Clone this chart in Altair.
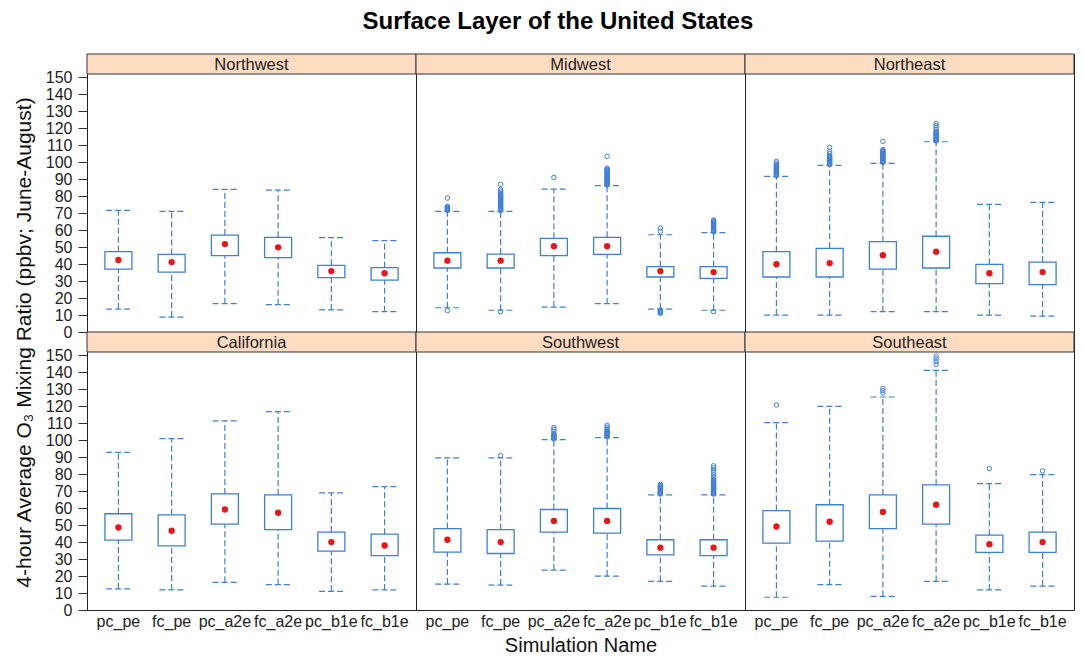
import altair as alt
import pandas as pd

regions = ["Northwest", "Midwest", "Northeast", "California", "Southwest", "Southeast"]
sims = ["pc_pe", "fc_pe", "pc_a2e", "fc_a2e", "pc_b1e", "fc_b1e"]

# box statistics, one row of 6 simulations per region (order of `regions`)
q1_vals = [37.1, 35.3, 45.0, 43.8, 32.0, 30.6,
           37.7, 37.7, 45.0, 45.7, 32.4, 31.6,
           32.4, 32.4, 37.1, 37.7, 28.5, 27.9,
           41.2, 37.8, 50.6, 47.3, 34.7, 32.0,
           34.1, 33.3, 45.9, 45.3, 32.5, 32.0,
           39.4, 40.6, 48.0, 50.6, 33.9, 33.9]
q3_vals = [47.3, 45.7, 57.1, 55.8, 39.3, 37.9,
           46.7, 45.9, 55.2, 55.8, 38.5, 38.5,
           47.3, 49.3, 53.2, 56.4, 39.9, 41.2,
           56.7, 56.1, 68.4, 67.8, 45.9, 44.7,
           48.0, 47.3, 59.2, 59.8, 41.4, 41.4,
           58.6, 62.0, 67.8, 73.7, 44.1, 45.9]
mean_vals = [42.4, 41.2, 51.8, 49.9, 35.9, 34.6,
             42.0, 42.0, 50.5, 50.5, 35.9, 35.3,
             39.9, 40.6, 45.2, 47.3, 34.6, 35.3,
             48.6, 46.7, 59.2, 57.3, 40.0, 38.0,
             41.4, 40.0, 52.5, 52.5, 36.7, 36.7,
             49.2, 52.0, 57.8, 62.0, 38.8, 40.0]
wlo_vals = [13.5, 8.8, 16.7, 16.1, 13.0, 12.0,
            14.3, 12.8, 14.7, 16.7, 13.5, 12.8,
            10.0, 10.0, 12.0, 12.0, 10.0, 9.4,
            12.4, 11.8, 16.3, 14.9, 11.0, 11.8,
            15.3, 14.7, 23.5, 20.0, 16.9, 14.1,
            7.5, 14.9, 8.0, 16.9, 11.8, 14.1]
whi_vals = [71.7, 71.1, 84.0, 83.6, 55.6, 53.8,
            71.1, 71.1, 84.2, 86.2, 57.3, 58.5,
            91.7, 98.2, 99.4, 112.1, 75.2, 76.4,
            92.9, 101.0, 111.4, 116.9, 69.0, 72.7,
            89.6, 89.6, 100.4, 101.6, 67.8, 67.8,
            110.4, 120.0, 125.5, 141.2, 74.5, 79.8]

# outliers: (region, simulation, values)
outliers = [
    ("Midwest", "pc_pe", [12.6, 71.6, 72.0, 72.4, 72.8, 73.2, 73.6, 74.0, 78.9]),
    ("Midwest", "fc_pe", [12.0, 71.5, 72.0, 72.5, 73.0, 73.5, 74.0, 74.5, 75.0, 75.5, 76.0, 76.5,
                          77.0, 77.5, 78.0, 78.5, 79.0, 79.5, 80.0, 80.5, 81.0, 82.0, 83.0, 84.0, 87.0]),
    ("Midwest", "pc_a2e", [91.1]),
    ("Midwest", "fc_a2e", [86.5, 87.0, 87.5, 88.0, 88.5, 89.0, 89.5, 90.0, 90.5, 91.0, 91.5, 92.0,
                           92.5, 93.0, 93.5, 94.0, 94.5, 95.0, 95.5, 96.0, 96.5, 103.5]),
    ("Midwest", "pc_b1e", [11.0, 11.5, 12.0, 12.5, 13.0, 59.3, 61.3]),
    ("Midwest", "fc_b1e", [12.0, 59.0, 59.5, 60.0, 60.5, 61.0, 61.5, 62.0, 62.5, 63.0, 63.5, 64.0,
                           64.5, 65.0, 65.5, 66.0]),
    ("Northeast", "pc_pe", [92.0, 92.5, 93.0, 93.5, 94.0, 94.5, 95.0, 95.5, 96.0, 96.5, 97.0, 97.5,
                            98.0, 98.5, 99.5, 100.5]),
    ("Northeast", "fc_pe", [98.5, 99.0, 99.5, 100.0, 100.5, 101.0, 101.5, 102.0, 102.5, 103.0, 103.5,
                            104.0, 105.2, 106.4, 108.8]),
    ("Northeast", "pc_a2e", [99.8, 100.3, 100.8, 101.3, 101.8, 102.3, 102.8, 103.3, 103.8, 104.3,
                             104.8, 105.3, 105.8, 106.3, 106.8, 107.5, 112.3]),
    ("Northeast", "fc_a2e", [112.5, 113.0, 113.5, 114.0, 114.5, 115.0, 115.5, 116.0, 116.5, 117.0,
                             117.5, 118.0, 119.2, 120.4, 121.6, 122.8]),
    ("Southwest", "fc_pe", [91.0]),
    ("Southwest", "pc_a2e", [100.8, 101.3, 101.8, 102.3, 102.8, 103.3, 103.8, 105.2, 106.4, 107.5]),
    ("Southwest", "fc_a2e", [102.0, 102.5, 103.0, 103.5, 104.0, 104.5, 105.0, 105.5, 106.6, 107.7, 108.8]),
    ("Southwest", "pc_b1e", [68.3, 68.8, 69.3, 69.8, 70.3, 70.8, 71.3, 71.8, 72.3, 72.8, 73.3, 74.0]),
    ("Southwest", "fc_b1e", [68.3, 68.8, 69.3, 69.8, 70.3, 70.8, 71.3, 71.8, 72.3, 72.8, 73.3, 73.8,
                             74.3, 74.8, 75.3, 75.8, 76.3, 77.0, 78.2, 79.6, 81.0, 82.4, 83.8, 85.0]),
    ("Southeast", "pc_pe", [120.8]),
    ("Southeast", "pc_a2e", [127.8, 129.2, 130.6]),
    ("Southeast", "fc_a2e", [144.7, 146.3, 148.0, 149.6]),
    ("Southeast", "pc_b1e", [83.3]),
    ("Southeast", "fc_b1e", [82.0]),
]

title_text = "Surface Layer of the United States"
y_title = "4-hour Average O\u2083 Mixing Ratio (ppbv; June-August)"
x_title = "Simulation Name"

# ---- tables ----
rows = []
for i, r in enumerate(regions):
    for j, s in enumerate(sims):
        k = i * len(sims) + j
        rows.append(dict(region=r, sim=s, q1=q1_vals[k], q3=q3_vals[k], mean=mean_vals[k],
                         wlo=wlo_vals[k], whi=whi_vals[k]))
box_df = pd.DataFrame(rows)
out_df = pd.DataFrame([dict(region=r, sim=s, value=v) for r, s, vs in outliers for v in vs])

BLUE = "#3f7fd6"
RED = "#e8161b"
PEACH = "#fddcc2"
FONT = "Liberation Sans"
W = 329
PH = 258   # plot area below the strip
SH = 20    # strip height
H = PH + SH

yscale = alt.Scale(domain=[0, 152], nice=False, zero=False, range=[H, SH])
xscale = alt.Scale(type="band", domain=sims, paddingInner=0, paddingOuter=0.09)


def panel(r, col, row):
    if row == 1:
        ax_kw = dict(ticks=False, domain=False, labelAngle=0, labelFontSize=16, labelFont=FONT,
                     labelColor="#222", labelPadding=3, labelOverlap=False,
                     titleFont=FONT, titleFontSize=20, titleFontWeight="normal",
                     titleColor="#111", titlePadding=6)
        if col == 1:
            xaxis = alt.Axis(title=x_title, **ax_kw)
        else:
            xaxis = alt.Axis(title="", **ax_kw)
    else:
        xaxis = None
    if col == 0:
        y_kw = dict(values=list(range(0, 160, 10)), tickSize=9, tickColor="#333", domain=False,
                    grid=False, labelFontSize=16, labelFont=FONT, labelColor="#222",
                    labelPadding=6, labelOverlap=False)
        if row == 0:
            yaxis = alt.Axis(title=y_title, titleFont=FONT, titleFontSize=21,
                             titleFontWeight="normal", titleColor="#111", titlePadding=11,
                             titleY=288, titleAnchor="middle", **y_kw)
        else:
            yaxis = alt.Axis(title="", **y_kw)
    else:
        yaxis = None

    def X(**kw):
        return alt.X("sim:N", scale=xscale, axis=xaxis, **kw)

    def Y(f):
        return alt.Y(f, scale=yscale, axis=yaxis)

    base = alt.Chart(box_df).transform_filter(alt.datum.region == r)
    dash = [6, 3]
    w_up = base.mark_rule(color=BLUE, strokeDash=dash, strokeWidth=1.2).encode(
        x=X(), y=Y("q3:Q"), y2="whi:Q")
    w_lo = base.mark_rule(color=BLUE, strokeDash=dash, strokeWidth=1.2).encode(
        x=X(), y=Y("wlo:Q"), y2="q1:Q")
    cap_hi = base.mark_rule(color=BLUE, strokeDash=dash, strokeWidth=1.2).encode(
        x=X(bandPosition=0.27), x2=alt.X2("sim", bandPosition=0.73), y=Y("whi:Q"))
    cap_lo = base.mark_rule(color=BLUE, strokeDash=dash, strokeWidth=1.2).encode(
        x=X(bandPosition=0.27), x2=alt.X2("sim", bandPosition=0.73), y=Y("wlo:Q"))
    box = base.mark_bar(size=27, fill="white", stroke=BLUE, strokeWidth=1.3).encode(
        x=X(), y=Y("q1:Q"), y2="q3:Q")
    mean = base.mark_point(filled=True, color=RED, size=40, opacity=1).encode(x=X(), y=Y("mean:Q"))
    outl = alt.Chart(out_df).transform_filter(alt.datum.region == r).mark_point(
        shape="circle", filled=False, color=BLUE, size=20, strokeWidth=1, opacity=1).encode(
        x=X(), y=Y("value:Q"))

    sdf = pd.DataFrame({"region": [r]})
    strip_bg = alt.Chart(sdf).mark_rect(fill=PEACH, stroke="#333", strokeWidth=1).encode(
        x=alt.value(0), x2=alt.value(W), y=alt.value(0), y2=alt.value(SH))
    strip_tx = alt.Chart(sdf).mark_text(
        fontSize=16.5, font=FONT, color="#222", baseline="middle").encode(
        text="region:N", x=alt.value(W / 2), y=alt.value(SH / 2 + 1))

    return alt.layer(w_up, w_lo, cap_hi, cap_lo, box, outl, mean, strip_bg, strip_tx).properties(
        width=W, height=H, view=alt.ViewBackground(stroke="#222", strokeWidth=1, fill="white"))


panels = [panel(regions[k], k % 3, k // 3) for k in range(6)]

chart = alt.concat(*panels, columns=3, spacing=0, bounds="flush").properties(
    title=alt.TitleParams(title_text, anchor="middle", fontSize=24, font=FONT, fontWeight="bold",
                          color="#000", offset=19, dx=14),
    padding={"left": 4, "top": 2, "right": 0, "bottom": 0},
).configure_view(strokeWidth=0).configure(background="white")

chart.save("out.html", embed_options={"renderer": "svg", "actions": False})
